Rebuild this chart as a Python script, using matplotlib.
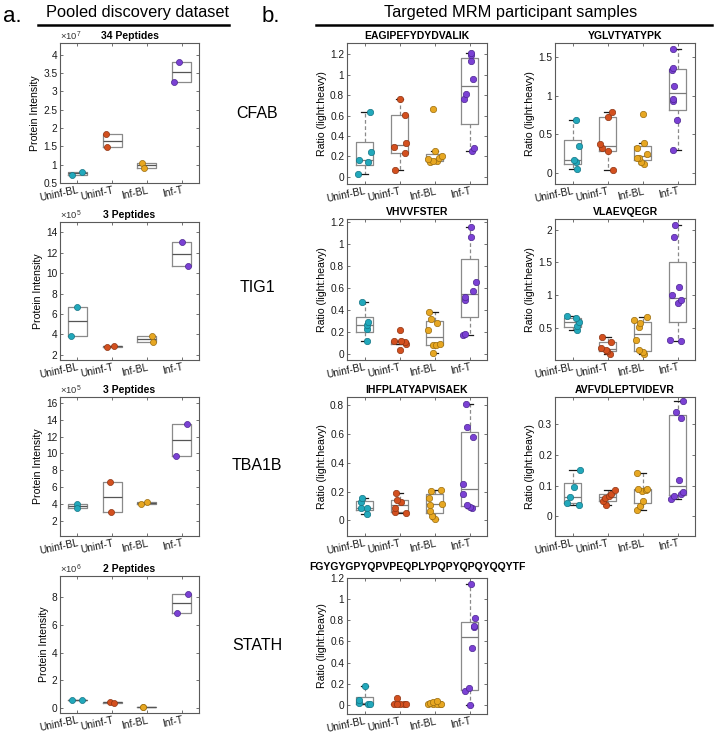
import numpy as np
import matplotlib
matplotlib.use('Agg')
import matplotlib.pyplot as plt
from matplotlib.lines import Line2D
from matplotlib.ticker import FuncFormatter

plt.rcParams['font.family'] = ['Liberation Sans', 'DejaVu Sans']
plt.rcParams['mathtext.fontset'] = 'custom'
plt.rcParams['mathtext.rm'] = 'Liberation Sans'
plt.rcParams['mathtext.it'] = 'Liberation Sans'

# ---------------- data ----------------
groups = ['Uninf-BL', 'Uninf-T', 'Inf-BL', 'Inf-T']
colors = ['#22a8bb', '#d3501f', '#e7a722', '#7b41d4']
edges = ['#147585', '#8e3413', '#9a6d10', '#4c2791']

# panel a: pooled discovery (values in axis units, exponent separately)
genes = ['CFAB', 'TIG1', 'TBA1B', 'STATH']
a_titles = ['34 Peptides', '3 Peptides', '3 Peptides', '2 Peptides']
a_exp = [7, 5, 5, 6]
cfab = [[0.72, 0.81], [1.83, 1.47], [1.05, 0.92], [3.80, 3.25]]
tig1 = [[3.85, 6.70], [2.80, 2.90], [3.85, 3.25], [13.05, 10.65]]
tba1b = [[3.95, 3.55], [6.65, 3.10], [4.00, 4.20], [13.50, 9.65]]
stath = [[0.55, 0.55], [0.45, 0.38], [0.07, 0.08], [8.25, 6.90]]
cfab_jit = [[-0.15, 0.12], [-0.18, -0.16], [-0.15, -0.08], [-0.07, -0.21]]
tig1_jit = [[-0.17, 0.0], [-0.15, 0.06], [0.14, 0.19], [0.0, 0.19]]
tba1b_jit = [[0.0, -0.02], [-0.06, -0.03], [-0.17, 0.0], [0.15, -0.17]]
stath_jit = [[-0.16, 0.12], [-0.06, 0.04], [-0.12, -0.1], [0.19, -0.12]]
a_ylims = [(0.5, 4.32), (1.5, 15.0), (0.2, 16.7), (-0.36, 9.55)]
a_yticks = [np.arange(0.5, 4.01, 0.5), np.arange(2, 14.1, 2),
            np.arange(2, 16.1, 2), np.arange(0, 8.1, 2)]

# panel b: targeted MRM ratios (light:heavy)
peptides = ['EAGIPEFYDYDVALIK', 'YGLVTYATYPK', 'VHVVFSTER', 'VLAEVQEGR',
            'IHFPLATYAPVISAEK', 'AVFVDLEPTVIDEVR',
            'FGYGYGPYQPVPEQPLYPQPYQPQYQQYTF']
eagip = [[0.032, 0.146, 0.169, 0.243, 0.636],
         [0.068, 0.237, 0.295, 0.334, 0.61, 0.765],
         [0.15, 0.155, 0.158, 0.172, 0.185, 0.2, 0.253, 0.668],
         [0.25, 0.28, 0.76, 0.81, 0.96, 1.13, 1.19, 1.21]]
eagip_jit = [[-0.2, 0.09, -0.16, 0.19, 0.16],
             [-0.12, 0.16, -0.17, 0.19, 0.17, 0.02],
             [-0.12, 0.07, -0.03, -0.2, 0.14, 0.21, 0.0, -0.03],
             [0.06, 0.13, -0.17, -0.1, 0.1, 0.05, 0.05, 0.03]]
yglv = [[0.057, 0.145, 0.175, 0.35, 0.68],
        [0.04, 0.284, 0.32, 0.376, 0.72, 0.787],
        [0.12, 0.15, 0.19, 0.2, 0.245, 0.32, 0.39, 0.765],
        [0.3, 0.69, 0.93, 0.953, 1.128, 1.33, 1.355, 1.6]]
yglv_jit = [[0.13, 0.09, 0.04, 0.18, 0.1],
            [0.16, 0.0, -0.17, -0.22, 0.0, 0.13],
            [0.03, -0.05, -0.1, -0.17, 0.13, -0.15, 0.03, 0.0],
            [-0.12, -0.02, -0.13, -0.12, -0.1, -0.15, -0.12, -0.14]]
vhvv = [[0.122, 0.228, 0.264, 0.289, 0.477],
        [0.036, 0.09, 0.105, 0.115, 0.12, 0.219],
        [0.009, 0.08, 0.085, 0.09, 0.219, 0.285, 0.316, 0.386],
        [0.173, 0.182, 0.492, 0.522, 0.574, 0.66, 1.07, 1.16]]
vhvv_jit = [[0.06, 0.06, 0.08, 0.1, -0.07],
            [0.0, 0.18, 0.17, 0.03, -0.16, 0.0],
            [-0.04, -0.04, 0.03, 0.17, -0.18, 0.08, -0.1, -0.16],
            [-0.18, -0.13, -0.13, -0.13, 0.1, 0.19, 0.04, 0.05]]
vlae = [[0.479, 0.54, 0.604, 0.651, 0.693],
        [0.11, 0.161, 0.172, 0.203, 0.292, 0.375],
        [0.115, 0.135, 0.177, 0.323, 0.516, 0.578, 0.625, 0.667],
        [0.313, 0.328, 0.88, 0.93, 1.0, 1.135, 1.885, 2.068]]
vlae_jit = [[0.13, 0.13, 0.18, 0.1, -0.17],
            [0.07, -0.01, -0.03, -0.18, 0.11, -0.15],
            [0.04, 0.02, -0.1, -0.2, -0.1, -0.06, -0.23, 0.14],
            [0.1, -0.22, 0.0, 0.1, -0.15, 0.04, -0.09, -0.08]]
ihfp = [[0.042, 0.085, 0.088, 0.13, 0.155],
        [0.053, 0.06, 0.083, 0.129, 0.14, 0.188],
        [0.007, 0.034, 0.064, 0.11, 0.113, 0.159, 0.202, 0.209],
        [0.087, 0.094, 0.106, 0.186, 0.251, 0.582, 0.646, 0.807]]
ihfp_jit = [[0.08, -0.11, 0.08, -0.11, -0.06],
            [0.18, -0.14, -0.14, 0.03, -0.07, -0.09],
            [0.0, -0.06, -0.14, -0.12, 0.22, -0.16, -0.11, 0.19],
            [0.08, 0.01, -0.07, -0.18, -0.18, 0.1, -0.07, -0.1]]
avfv = [[0.038, 0.044, 0.062, 0.095, 0.152],
        [0.038, 0.051, 0.059, 0.066, 0.073, 0.084],
        [0.022, 0.035, 0.049, 0.082, 0.086, 0.088, 0.09, 0.142],
        [0.055, 0.066, 0.073, 0.079, 0.119, 0.32, 0.34, 0.375]]
avfv_jit = [[0.19, -0.15, -0.07, 0.04, 0.21],
            [-0.04, -0.14, -0.06, 0.05, 0.1, 0.21],
            [-0.17, -0.06, 0.02, -0.01, 0.11, 0.13, -0.12, -0.15],
            [-0.18, -0.1, 0.09, 0.15, 0.03, 0.09, -0.04, 0.15]]
fgyg = [[0.01, 0.012, 0.015, 0.045, 0.176],
        [0.004, 0.005, 0.006, 0.008, 0.01, 0.063],
        [0.004, 0.005, 0.006, 0.008, 0.01, 0.015, 0.025, 0.038],
        [0.0, 0.127, 0.16, 0.537, 0.74, 0.745, 0.818, 1.145]]
fgyg_jit = [[0.1, 0.15, -0.16, -0.16, 0.0],
            [-0.15, 0.12, 0.0, 0.18, -0.08, -0.06],
            [-0.18, 0.15, -0.05, 0.08, 0.18, -0.12, -0.05, 0.08],
            [0.0, -0.12, -0.02, 0.07, 0.14, 0.13, 0.15, 0.05]]
b_data = [eagip, yglv, vhvv, vlae, ihfp, avfv, fgyg]
b_jit = [eagip_jit, yglv_jit, vhvv_jit, vlae_jit, ihfp_jit, avfv_jit, fgyg_jit]
b_ylims = [(-0.07, 1.31), (-0.14, 1.68), (-0.055, 1.23), (0.02, 2.16),
           (-0.108, 0.857), (-0.064, 0.388), (-0.086, 1.2)]
b_yticks = [np.arange(0, 1.21, 0.2), np.arange(0, 1.51, 0.5),
            np.arange(0, 1.21, 0.2), np.arange(0.5, 2.01, 0.5),
            np.arange(0, 0.81, 0.2), np.arange(0, 0.31, 0.1),
            np.arange(0, 1.21, 0.2)]

# ---------------- layout ----------------
W, H = 715, 737
fig = plt.figure(figsize=(W / 100, H / 100), dpi=100)


def px_axes(x0, x1, y0, y1):
    return fig.add_axes([x0 / W, 1 - y1 / H, (x1 - x0) / W, (y1 - y0) / H])


BOXC = '#8a8a8a'
AXC = '#5a5a5a'


def box_stats(v):
    v = np.sort(np.asarray(v, dtype=float))
    q1, med, q3 = np.percentile(v, [25, 50, 75], method='hazen')
    iqr = q3 - q1
    lo = v[v >= q1 - 1.5 * iqr].min()
    hi = v[v <= q3 + 1.5 * iqr].max()
    return dict(med=med, q1=q1, q3=q3, whislo=lo, whishi=hi, fliers=[])


def draw(ax, data, jit, scale, ylim, yticks, title, ylabel, width, ms,
         medc, showcaps, tpad=3):
    vals = [np.asarray(v) * scale for v in data]
    st = [box_stats(v) for v in vals]
    ax.bxp(st, positions=[1, 2, 3, 4], widths=width, showfliers=False,
           showcaps=showcaps, capwidths=0.22, manage_ticks=False,
           boxprops=dict(color=BOXC, lw=0.9),
           whiskerprops=dict(color=BOXC, lw=0.9, ls=(0, (3, 2))),
           capprops=dict(color='#1a1a1a', lw=0.9),
           medianprops=dict(color=medc, lw=0.9))
    for i, (v, j) in enumerate(zip(vals, jit)):
        ax.scatter(np.full(len(v), i + 1.0) + np.asarray(j), v, s=ms,
                   c=colors[i], edgecolors=edges[i], linewidths=0.5,
                   zorder=3)
    ax.set_xlim(0.5, 4.5)
    ax.set_ylim(ylim[0] * scale, ylim[1] * scale)
    ax.set_yticks(np.asarray(yticks) * scale)
    ax.yaxis.set_major_formatter(FuncFormatter(lambda y, p: '%g' % round(y / scale, 6)))
    ax.set_xticks([1, 2, 3, 4])
    ax.set_xticklabels(groups, rotation=12, ha='right',
                       rotation_mode='anchor', fontsize=7.3)
    ax.tick_params(direction='in', length=2.5, width=0.6, top=True,
                   right=True, color=AXC, labelcolor='#1a1a1a',
                   labelsize=7.3, pad=2)
    ax.tick_params(axis='x', pad=1.5)
    for s in ax.spines.values():
        s.set_color(AXC)
        s.set_linewidth(0.8)
    ax.set_title(title, fontsize=7.5, fontweight='bold', pad=tpad)
    ax.set_ylabel(ylabel, fontsize=7.6, labelpad=2)


a_rows = [(43, 183), (222, 360), (397, 536), (576, 713)]
b_rows = [(43, 184), (219, 360), (397, 536), (578, 714)]
a_sets = [cfab, tig1, tba1b, stath]
a_jits = [cfab_jit, tig1_jit, tba1b_jit, stath_jit]
gene_y = [113, 288, 466, 645]

for k in range(4):
    ax = px_axes(60, 199, *a_rows[k])
    sc = 10.0 ** a_exp[k]
    draw(ax, a_sets[k], a_jits[k], sc, a_ylims[k], a_yticks[k],
         a_titles[k], 'Protein Intensity', 0.55, 19, '#555555', False)
    ax.text(0.0, 1.0, r'$\times$10$^{%d}$' % a_exp[k],
            transform=ax.transAxes, ha='left', va='bottom', fontsize=6.8,
            color='#333333')
    fig.text(257 / W, 1 - gene_y[k] / H, genes[k], ha='center',
             va='center', fontsize=11.5)

b_cols = [(347, 487), (555, 695)]
for k in range(7):
    r, c = divmod(k, 2)
    ax = px_axes(*b_cols[c], *b_rows[r])
    draw(ax, b_data[k], b_jit[k], 1.0, b_ylims[k], b_yticks[k],
         peptides[k], 'Ratio (light:heavy)', 0.5, 21, '#7a7a7a', True,
         tpad=6 if k == 6 else 3)

# headers
fig.text(3 / W, 1 - 16 / H, 'a.', fontsize=16, ha='left', va='center')
fig.text(262 / W, 1 - 16 / H, 'b.', fontsize=16, ha='left', va='center')
fig.text(138 / W, 1 - 12 / H, 'Pooled discovery dataset', fontsize=11.8,
         ha='center', va='center')
fig.text(511 / W, 1 - 12 / H, 'Targeted MRM participant samples',
         fontsize=11.8, ha='center', va='center')
fig.add_artist(Line2D([38 / W, 229 / W], [1 - 25 / H, 1 - 25 / H],
                      color='black', lw=1.8))
fig.add_artist(Line2D([316 / W, 712 / W], [1 - 25 / H, 1 - 25 / H],
                      color='black', lw=1.8))

fig.savefig('out.png', dpi=100)
